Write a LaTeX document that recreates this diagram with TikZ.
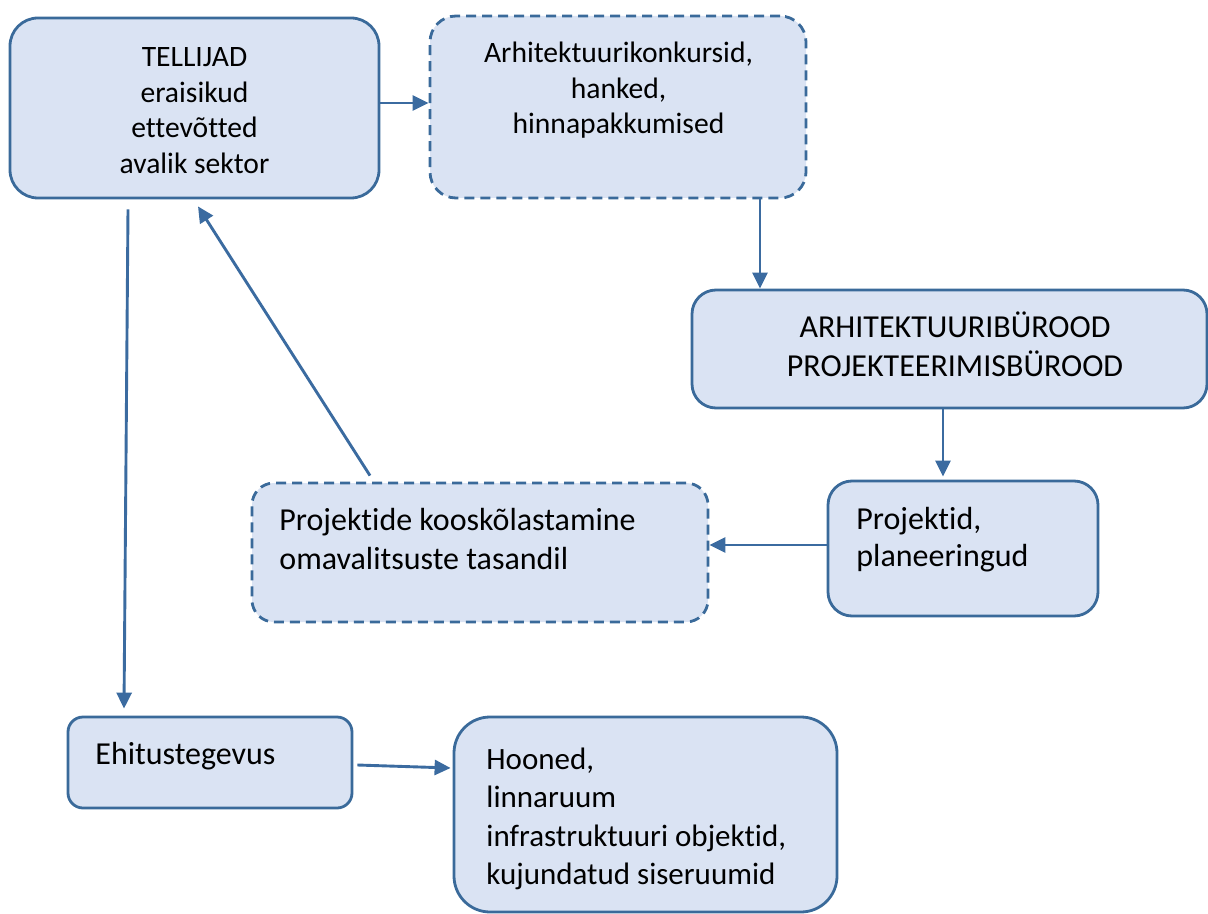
\documentclass[tikz,border=0pt]{standalone}
\usepackage{fontspec}
\setmainfont[Ligatures=NoCommon]{Carlito}
\usepackage{tikz}
\usetikzlibrary{positioning, arrows.meta}
\definecolor{boxfill}{HTML}{DAE3F3}
\definecolor{boxline}{HTML}{3A6A9A}
\definecolor{linkline}{HTML}{3B6BA0}
\tikzset{
box/.style={rectangle, draw=boxline, fill=boxfill, line width=1.4pt, inner sep=0pt}, % rounded boxes
dashedbox/.style={box, dash pattern=on 5pt off 3pt}, % boxes with a dashed border
txt/.style 2 args={inner sep=0pt, font=\fontsize{#1}{#2}\selectfont}, % text inside the boxes
link/.style={-{Triangle[length=8pt,width=7.5pt]}, draw=linkline, line width=1.45pt}, % the arrows
}

\begin{document}
\begin{tikzpicture}[x=0.5pt, y=-0.5pt]
\useasboundingbox (0,0) rectangle (1208,914);

\node[box, rounded corners=14pt, minimum width=184.5pt, minimum height=90pt] (tellijad) at (194.5,108) {};
\node[dashedbox, rounded corners=13pt, minimum width=188pt, minimum height=91pt] (konkurss) at (618,107) {};
\node[box, rounded corners=12pt, minimum width=257.5pt, minimum height=59pt] (buroo) at (949.5,349) {};
\node[box, rounded corners=12pt, minimum width=135pt, minimum height=67.5pt] (projektid) at (963,548.5) {};
\node[dashedbox, rounded corners=11pt, minimum width=228pt, minimum height=69.5pt] (kooskola) at (480,552.5) {};
\node[box, rounded corners=7.5pt, minimum width=142pt, minimum height=45.5pt] (ehitus) at (210,762.5) {};
\node[box, rounded corners=18pt, minimum width=191.5pt, minimum height=97.5pt] (hooned) at (645.5,814.5) {};

\node[txt={14.8pt}{17.75pt}, anchor=base] (tellijadtxt) at (194.5,67) {\begin{tabular}[t]{@{}c@{}} TELLIJAD \\ eraisikud \\ ettevõtted \\ avalik sektor \end{tabular}};
\node[txt={14.8pt}{17.75pt}, anchor=base] (konkursstxt) at (618.5,63) {\begin{tabular}[t]{@{}c@{}} Arhitektuurikonkursid, \\ hanked, \\ hinnapakkumised \end{tabular}};
\node[txt={16pt}{19.5pt}, anchor=base] (buarootxt) at (955,337) {\begin{tabular}[t]{@{}c@{}} ARHITEKTUURIBÜROOD \\ PROJEKTEERIMISBÜROOD \end{tabular}};
\node[txt={16pt}{18.5pt}, anchor=base west] (projektidtxt) at (856,529) {\begin{tabular}[t]{@{}l@{}} Projektid, \\ planeeringud \end{tabular}};
\node[txt={16pt}{19.5pt}, anchor=base west] (kooskolatxt) at (279,530) {\begin{tabular}[t]{@{}l@{}} Projektide kooskõlastamine \\ omavalitsuste tasandil \end{tabular}};
\node[txt={16pt}{19.5pt}, anchor=base west] (ehitustxt) at (95,764) {Ehitustegevus};
\node[txt={15.5pt}{19.3pt}, anchor=base west] (hoonedtxt) at (486,769) {\begin{tabular}[t]{@{}l@{}} Hooned, \\ linnaruum \\ infrastruktuuri objektid, \\ kujundatud siseruumid \end{tabular}};

\draw[link] ([yshift=2.5pt]tellijad.east) -- ([yshift=2.5pt]tellijad.east -| konkurss.west);
\draw[link] ([xshift=71pt]konkurss.south) -- ([xshift=71pt]konkurss.south |- buroo.north);
\draw[link] ([xshift=-3.25pt]buroo.south) -- ([xshift=-3.25pt,yshift=1.5pt]buroo.south |- projektid.north);
\draw[link] ([yshift=1.75pt]projektid.west) -- ([yshift=1.75pt]projektid.west -| kooskola.east);
\draw[link] ([xshift=-55pt,yshift=3pt]kooskola.north) -- ([xshift=1.75pt,yshift=-3.5pt]tellijad.south);
\draw[link] ([xshift=-33.25pt,yshift=-5pt]tellijad.south) -- ([xshift=-43pt,yshift=3.5pt]ehitus.north);
\draw[link] ([xshift=2pt,yshift=-1.25pt]ehitus.east) -- ([xshift=-1pt,yshift=23.25pt]hooned.west);

\end{tikzpicture}
\end{document}
